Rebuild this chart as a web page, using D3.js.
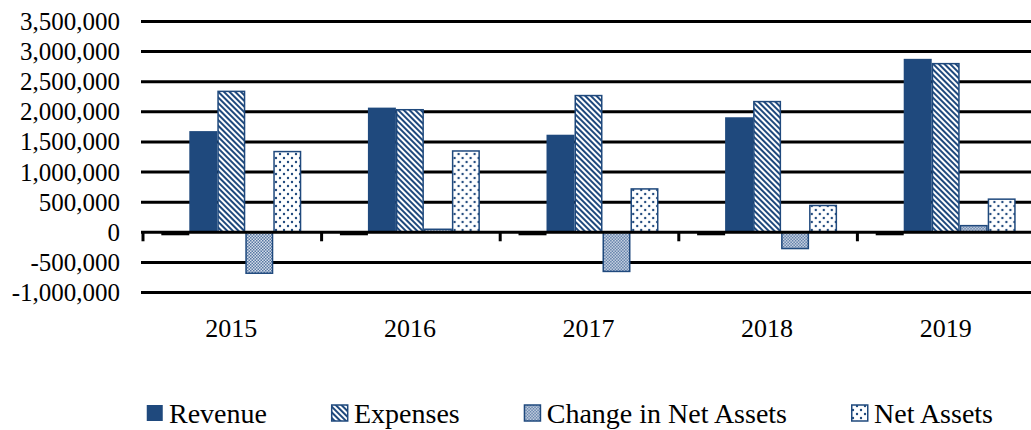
<!DOCTYPE html>
<html>
<head>
<meta charset="utf-8">
<script src="https://cdn.jsdelivr.net/npm/d3@7"></script>
<style>
  body { margin: 0; background: #fff; }
  text { font-family: "Liberation Serif", "Times New Roman", serif; fill: #000; }
</style>
</head>
<body>
<div id="chart"></div>
<script>
// data
const years = ["2015", "2016", "2017", "2018", "2019"];
const seriesNames = ["", "Revenue", "Expenses", "Change in Net Assets", "Net Assets"];
const blank = [-50000, -50000, -50000, -50000, -50000]; // the small black stub left of each group
const revenue = [1680000, 2070000, 1620000, 1910000, 2880000];
const expenses = [2340000, 2035000, 2270000, 2170000, 2800000];
const changeNet = [-680000, 50000, -650000, -270000, 110000];
const netAssets = [1340000, 1350000, 720000, 445000, 550000];
const yTicks = [-1000000, -500000, 0, 500000, 1000000, 1500000, 2000000, 2500000, 3000000, 3500000];

const allSeries = [blank, revenue, expenses, changeNet, netAssets];
const rows = years.map((y, i) => ({
  year: y,
  vals: allSeries.map((s, k) => ({ key: k, value: s[i] }))
}));

const width = 1031, height = 430;
const blue = "#1f497d";

const svg = d3.select("#chart").append("svg")
  .attr("width", width).attr("height", height);

const defs = svg.append("defs");

// diagonal stripes
const stripes = defs.append("pattern").attr("id", "stripes")
  .attr("patternUnits", "userSpaceOnUse").attr("width", 4).attr("height", 4)
  .attr("patternTransform", "rotate(-45)");
stripes.append("rect").attr("width", 4).attr("height", 4).attr("fill", "#fff");
stripes.append("rect").attr("width", 2).attr("height", 4).attr("fill", blue);

// fine checker
const checker = defs.append("pattern").attr("id", "checker")
  .attr("patternUnits", "userSpaceOnUse").attr("width", 3).attr("height", 3);
checker.append("rect").attr("width", 3).attr("height", 3).attr("fill", "#d6deea");
checker.append("rect").attr("width", 1.5).attr("height", 1.5).attr("fill", "#5677a3");
checker.append("rect").attr("x", 1.5).attr("y", 1.5).attr("width", 1.5).attr("height", 1.5).attr("fill", "#5677a3");

// dots
const dots = defs.append("pattern").attr("id", "dots")
  .attr("patternUnits", "userSpaceOnUse").attr("width", 8).attr("height", 8);
dots.append("rect").attr("width", 8).attr("height", 8).attr("fill", "#fff");
dots.append("circle").attr("cx", 2).attr("cy", 2).attr("r", 1.2).attr("fill", blue);
dots.append("circle").attr("cx", 6).attr("cy", 6).attr("r", 1.2).attr("fill", blue);

const fills = ["#000", blue, "url(#stripes)", "url(#checker)", "url(#dots)"];
const strokes = ["none", "none", blue, blue, blue];

const x0 = d3.scaleBand().domain(years).range([142, 1035]).padding(0);
const bw = x0.bandwidth();
const gap = bw * 1.38 / (5 + 1.38) / 2;
const x1 = d3.scaleBand().domain(d3.range(5)).range([gap, bw - gap]).padding(0);

const y = d3.scaleLinear().domain([-1000000, 3500000]).range([292.5, 21.5]);

const fmt = d3.formatLocale({ decimal: ".", thousands: ",", grouping: [3], currency: ["", ""], minus: "-" }).format(",");

// gridlines
svg.append("g").selectAll("line")
  .data(yTicks.filter(d => d !== 0))
  .join("line")
  .attr("x1", 141).attr("x2", width)
  .attr("y1", d => y(d)).attr("y2", d => y(d))
  .attr("stroke", "#000").attr("stroke-width", 3);

// y labels
svg.append("g").selectAll("text")
  .data(yTicks)
  .join("text")
  .attr("x", 120).attr("y", d => y(d))
  .attr("text-anchor", "end").attr("dominant-baseline", "central")
  .attr("font-size", 25)
  .text(d => fmt(d));

// bars
const groups = svg.append("g").selectAll("g")
  .data(rows)
  .join("g")
  .attr("transform", d => `translate(${x0(d.year)},0)`);

groups.selectAll("rect")
  .data(d => d.vals)
  .join("rect")
  .attr("x", d => x1(d.key) + (d.key > 1 ? 0.75 : 0))
  .attr("width", d => x1.bandwidth() - (d.key > 1 ? 1.5 : 0))
  .attr("y", d => y(Math.max(0, d.value)))
  .attr("height", d => Math.abs(y(d.value) - y(0)))
  .attr("fill", d => fills[d.key])
  .attr("stroke", d => strokes[d.key])
  .attr("stroke-width", 1.5);

// zero axis with category ticks
svg.append("line")
  .attr("x1", 141).attr("x2", width)
  .attr("y1", y(0)).attr("y2", y(0))
  .attr("stroke", "#000").attr("stroke-width", 3);

svg.append("g").selectAll("line")
  .data(years)
  .join("line")
  .attr("x1", d => x0(d) + 1).attr("x2", d => x0(d) + 1)
  .attr("y1", y(0)).attr("y2", y(0) + 9)
  .attr("stroke", "#000").attr("stroke-width", 3);

// year labels
svg.append("g").selectAll("text")
  .data(years)
  .join("text")
  .attr("x", d => x0(d) + bw / 2)
  .attr("y", 337)
  .attr("text-anchor", "middle")
  .attr("font-size", 26)
  .text(d => d);

// legend, spread between x=146 and x=993
const legend = svg.append("g");
const items = seriesNames.map((name, k) => ({ name, k })).filter(d => d.name);
const texts = items.map(d => {
  const g = legend.append("g");
  g.append("rect")
    .attr("x", 0.75).attr("y", 405)
    .attr("width", 16).attr("height", 16)
    .attr("fill", fills[d.k])
    .attr("stroke", d.k === 1 ? "none" : blue)
    .attr("stroke-width", 1.5);
  const t = g.append("text")
    .attr("x", 23).attr("y", 423)
    .attr("font-size", 28)
    .text(d.name);
  return { g, w: 23 + t.node().getComputedTextLength() };
});
const legendGap = (993 - 146 - d3.sum(texts, d => d.w)) / (texts.length - 1);
let lx = 146;
texts.forEach(d => {
  d.g.attr("transform", `translate(${lx},0)`);
  lx += d.w + legendGap;
});
</script>
</body>
</html>
